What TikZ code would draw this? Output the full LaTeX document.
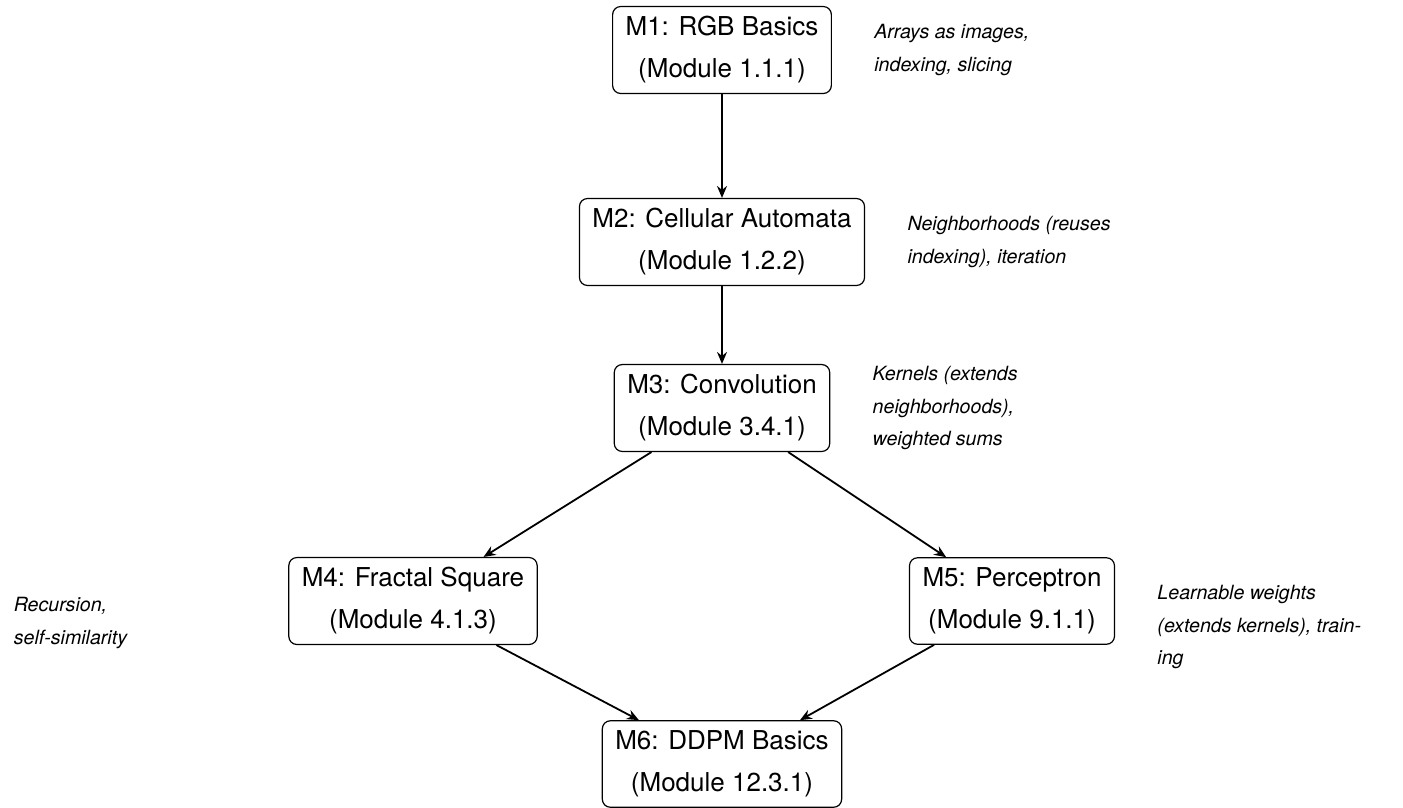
\documentclass[tikz,border=0pt]{standalone}
\usepackage{fontspec}
\setmainfont{TeX Gyre Heros}
\usetikzlibrary{arrows.meta, positioning}

\begin{document}
\begin{tikzpicture}[
    module/.style={draw, on grid, line width=0.6pt, rounded corners=4pt, align=center,
      inner xsep=6.5pt, inner ysep=5pt, font=\fontsize{13}{21}\selectfont},
    note/.style={align=left, inner sep=2pt, font=\fontsize{9.8}{16.2}\selectfont\itshape},
    link/.style={-{Stealth[length=6pt, width=5pt, inset=2pt]}, line width=0.9pt}]
  \node[module] (m1) {M1: RGB Basics\\(Module 1.1.1)};
  \node[module] (m2) [below=96pt of m1] {M2: Cellular Automata\\(Module 1.2.2)};
  \node[module] (m3) [below=83pt of m2] {M3: Convolution\\(Module 3.4.1)};
  \node[module] (m4) [below left=96.5pt and 154.5pt of m3] {M4: Fractal Square\\(Module 4.1.3)};
  \node[module] (m5) [below right=96.5pt and 145pt of m3] {M5: Perceptron\\(Module 9.1.1)};
  \node[module] (m6) [below=178pt of m3] {M6: DDPM Basics\\(Module 12.3.1)};

  % notes beside the modules
  \node[note] (n1) [right=19pt of m1] {Arrays as images,\\indexing, slicing};
  \node[note] (n2) [right=19pt of m2] {Neighborhoods (reuses\\indexing), iteration};
  \node[note] (n3) [right=19pt of m3] {Kernels (extends\\neighborhoods),\\weighted sums};
  \node[note, text width=116pt] (n4) [left=19pt of m4, yshift=-11pt] {Recursion,\\self-similarity};
  \node[note] (n5) [right=19pt of m5, yshift=-13pt] {Learnable weights\\(extends kernels), train-\\ing};

  \path[link]
    (m1) edge (m2)
    (m2) edge (m3)
    (m3) edge (m4)
         edge (m5)
    (m4) edge (m6)
    (m5) edge (m6);

  \useasboundingbox ([xshift=-361pt, yshift=25pt]m1.center)
    rectangle ([xshift=340.5pt, yshift=-378.5pt]m1.center);
\end{tikzpicture}
\end{document}
